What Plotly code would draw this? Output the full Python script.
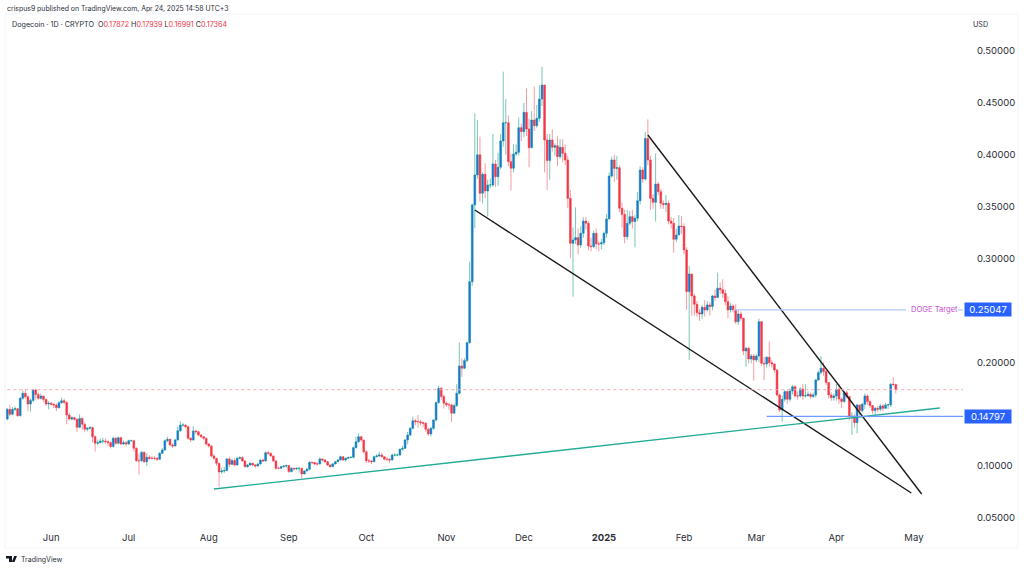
import pandas as pd
import plotly.graph_objects as go

start_date = "2024-05-15"

opens = [
.1454,.1547,.1499,.1547,.1553,.1486,.1653,.1701,.1668,.1598,
.1633,.1733,.1690,.1653,.1675,.1643,.1598,.1605,.1595,.1589,
.1563,.1611,.1630,.1614,.1492,.1454,.1467,.1451,.1374,.1460,
.1403,.1355,.1364,.1371,.1284,.1220,.1226,.1242,.1242,.1236,
.1226,.1188,.1268,.1220,.1274,.1213,.1226,.1213,.1245,.1245,
.1171,.1052,.1052,.1133,.1043,.1085,.1075,.1075,.1075,.1066,
.1123,.1155,.1245,.1258,.1204,.1194,.1252,.1342,.1396,.1396,
.1380,.1268,.1252,.1339,.1332,.1300,.1284,.1268,.1213,.1194,
.1098,.1075,.1027,.0944,.0954,.0957,.1069,.1017,.1053,.1011,
.1075,.1082,.1050,.0995,.1011,.1027,.1011,.1001,.1021,.1059,
.1050,.1130,.1123,.1098,.1050,.0979,.0979,.0995,.1001,.1005,
.0947,.0979,.0973,.0979,.0979,.0924,.0953,.0969,.1037,.1034,
.1021,.1021,.1069,.1059,.1043,.1011,.0995,.1021,.1043,.1059,
.1091,.1059,.1075,.1082,.1085,.1178,.1236,.1284,.1252,.1139,
.1050,.1050,.1043,.1091,.1098,.1107,.1091,.1066,.1066,.1059,
.1107,.1107,.1107,.1162,.1171,.1252,.1300,.1364,.1438,.1428,
.1428,.1419,.1412,.1355,.1310,.1364,.1445,.1612,.1750,.1670,
.1606,.1590,.1590,.1510,.1583,.1702,.1965,.1943,.2017,.2190,
.2777,.3517,.3806,.4000,.3629,.3812,.3651,.3709,.3709,.3912,
.3789,.3879,.4133,.4309,.4309,.3934,.3870,.4008,.4024,.4261,
.4223,.4409,.4249,.4069,.4335,.4280,.4351,.4537,.4672,.4143,
.3944,.4143,.4072,.4088,.3982,.4072,.4014,.3950,.3580,.3147,
.3179,.3202,.3131,.3243,.3362,.3340,.3121,.3115,.3243,.3141,
.3141,.3153,.3243,.3381,.3795,.3950,.3869,.3876,.3484,.3426,
.3211,.3340,.3404,.3356,.3388,.3558,.3853,.3767,.4158,.3950,
.3580,.3542,.3718,.3645,.3532,.3520,.3532,.3362,.3340,.3186,
.3227,.3314,.3308,.3083,.2682,.2852,.2640,.2560,.2479,.2466,
.2531,.2505,.2553,.2537,.2640,.2624,.2714,.2700,.2665,.2585,
.2505,.2543,.2505,.2392,.2466,.2424,.2110,.2135,.2033,.2061,
.2023,.2061,.2392,.1991,.1984,.2049,.1997,.1984,.1927,.1686,
.1541,.1644,.1718,.1644,.1724,.1766,.1676,.1676,.1744,.1676,
.1679,.1692,.1670,.1686,.1830,.1901,.1943,.1911,.1805,.1686,
.1660,.1676,.1740,.1646,.1622,.1708,.1670,.1477,.1480,.1419,
.1590,.1535,.1596,.1676,.1622,.1583,.1535,.1557,.1548,.1580,
.1557,.1590,.1590,.1789,.17872,
]

highs = [
.1560,.1590,.1570,.1575,.1560,.1665,.1730,.1740,.1680,.1650,
.1745,.1745,.1710,.1700,.1680,.1650,.1625,.1620,.1610,.1605,
.1625,.1660,.1650,.1625,.1510,.1480,.1475,.1460,.1500,.1470,
.1420,.1375,.1385,.1375,.1295,.1255,.1265,.1270,.1265,.1250,
.1240,.1285,.1280,.1285,.1285,.1245,.1240,.1255,.1255,.1255,
.1180,.1120,.1145,.1140,.1125,.1105,.1100,.1095,.1085,.1135,
.1175,.1255,.1285,.1265,.1220,.1265,.1380,.1434,.1415,.1400,
.1390,.1280,.1385,.1350,.1340,.1310,.1290,.1275,.1225,.1200,
.1115,.1080,.1030,.0985,.0990,.1080,.1090,.1075,.1075,.1090,
.1095,.1095,.1055,.1020,.1035,.1035,.1020,.1030,.1065,.1070,
.1140,.1149,.1130,.1100,.1055,.0995,.1000,.1010,.1015,.1010,
.0990,.0985,.0985,.0990,.0985,.0960,.0985,.1045,.1045,.1040,
.1040,.1085,.1075,.1065,.1050,.1015,.1030,.1050,.1070,.1100,
.1095,.1085,.1095,.1095,.1190,.1284,.1316,.1290,.1255,.1150,
.1075,.1060,.1100,.1115,.1140,.1130,.1095,.1085,.1075,.1120,
.1125,.1120,.1170,.1195,.1260,.1330,.1375,.1475,.1455,.1492,
.1445,.1430,.1425,.1370,.1380,.1450,.1620,.1775,.1765,.1690,
.1620,.1610,.1600,.1600,.1790,.2190,.2039,.2040,.2200,.2970,
.3530,.4399,.4335,.4175,.3830,.3920,.3760,.3770,.4200,.3950,
.4020,.4200,.4801,.4537,.4380,.4010,.4100,.4100,.4360,.4300,
.4500,.4640,.4350,.4420,.4656,.4480,.4670,.4849,.4672,.4200,
.4200,.4245,.4110,.4180,.4150,.4150,.4100,.3990,.3660,.3300,
.3494,.3290,.3310,.3400,.3400,.3360,.3200,.3270,.3290,.3170,
.3190,.3260,.3430,.3830,.3982,.4000,.3990,.3900,.3540,.3470,
.3470,.3460,.3470,.3420,.3640,.3890,.3880,.4220,.4341,.3990,
.3620,.4014,.3740,.3670,.3560,.3612,.3560,.3400,.3390,.3290,
.3420,.3410,.3340,.3110,.2930,.2852,.2660,.2590,.2510,.2550,
.2600,.2590,.2580,.2650,.2700,.2865,.2770,.2800,.2700,.2640,
.2570,.2560,.2560,.2500,.2490,.2430,.2150,.2150,.2080,.2080,
.2080,.2420,.2390,.2050,.2060,.2200,.2020,.1990,.1930,.1700,
.1680,.1730,.1730,.1750,.1780,.1780,.1720,.1760,.1790,.1790,
.1720,.1710,.1710,.1840,.1920,.2061,.2000,.1930,.1810,.1710,
.1700,.1790,.1790,.1660,.1720,.1730,.1680,.1520,.1500,.1600,
.1590,.1610,.1700,.1690,.1640,.1590,.1570,.1580,.1600,.1600,
.1610,.1600,.1800,.1856,.17939,
]

lows = [
.1440,.1480,.1490,.1530,.1475,.1480,.1640,.1650,.1530,.1524,
.1620,.1640,.1640,.1640,.1620,.1580,.1547,.1585,.1560,.1530,
.1555,.1600,.1600,.1402,.1440,.1440,.1440,.1330,.1365,.1350,
.1330,.1335,.1355,.1230,.1139,.1200,.1220,.1215,.1215,.1195,
.1170,.1180,.1205,.1210,.1205,.1205,.1195,.1205,.1235,.1140,
.1040,.0918,.1040,.1030,.1000,.1060,.1065,.1060,.1050,.1060,
.1140,.1150,.1230,.1190,.1175,.1190,.1245,.1330,.1380,.1365,
.1255,.1230,.1245,.1310,.1290,.1270,.1255,.1200,.1180,.1085,
.1060,.1005,.0802,.0925,.0935,.0950,.0990,.1010,.0995,.1005,
.1065,.1040,.0985,.0985,.1000,.1000,.0985,.0995,.1015,.1040,
.1040,.1110,.1090,.1040,.0963,.0970,.0975,.0985,.0985,.0935,
.0940,.0960,.0960,.0940,.0883,.0920,.0950,.0960,.1020,.1010,
.1005,.1015,.1045,.1030,.1005,.0985,.0990,.1015,.1040,.1055,
.1050,.1045,.1070,.1075,.1075,.1170,.1225,.1235,.1120,.1030,
.1030,.1020,.1035,.1085,.1090,.1080,.1055,.1050,.1030,.1055,
.1095,.1095,.1095,.1150,.1165,.1210,.1290,.1355,.1395,.1370,
.1395,.1375,.1332,.1290,.1285,.1350,.1430,.1600,.1640,.1555,
.1570,.1540,.1423,.1505,.1570,.1690,.1860,.1935,.2000,.2180,
.2736,.3292,.3770,.3547,.3533,.3580,.3404,.3677,.3690,.3690,
.3700,.3860,.4080,.4000,.3890,.3655,.3830,.3990,.3990,.4130,
.4170,.4180,.3880,.4060,.4230,.4260,.4320,.4470,.3830,.3661,
.3760,.4030,.3990,.3890,.3960,.3930,.3900,.3490,.3003,.2633,
.3140,.3040,.3100,.3200,.3280,.3080,.3070,.3100,.3090,.3070,
.3090,.3130,.3200,.3380,.3780,.3740,.3760,.3450,.3300,.3147,
.3180,.3320,.3290,.3109,.3360,.3520,.3730,.3750,.3900,.3468,
.3480,.3356,.3610,.3480,.3480,.3450,.3330,.3290,.3057,.3160,
.3230,.3240,.3040,.2505,.2023,.2450,.2450,.2440,.2400,.2420,
.2440,.2490,.2450,.2500,.2590,.2620,.2660,.2620,.2550,.2425,
.2480,.2480,.2370,.2360,.2400,.2070,.1959,.1990,.1990,.1824,
.2000,.2000,.1970,.1830,.1950,.1960,.1950,.1900,.1670,.1520,
.1429,.1620,.1600,.1620,.1690,.1660,.1640,.1660,.1640,.1660,
.1670,.1650,.1660,.1660,.1820,.1880,.1870,.1780,.1650,.1630,
.1630,.1630,.1600,.1560,.1610,.1650,.1440,.1301,.1370,.1317,
.1490,.1520,.1550,.1590,.1560,.1500,.1493,.1520,.1530,.1530,
.1550,.1550,.1570,.1770,.16991,
]

closes = [
.1547,.1499,.1547,.1553,.1486,.1653,.1701,.1668,.1598,.1633,
.1733,.1690,.1653,.1675,.1643,.1598,.1605,.1595,.1589,.1563,
.1611,.1630,.1614,.1492,.1454,.1467,.1451,.1374,.1460,.1403,
.1355,.1364,.1371,.1284,.1220,.1226,.1242,.1242,.1236,.1226,
.1188,.1268,.1220,.1274,.1213,.1226,.1213,.1245,.1245,.1171,
.1052,.1052,.1133,.1043,.1085,.1075,.1075,.1075,.1066,.1123,
.1155,.1245,.1258,.1204,.1194,.1252,.1342,.1396,.1396,.1380,
.1268,.1252,.1339,.1332,.1300,.1284,.1268,.1213,.1194,.1098,
.1075,.1027,.0944,.0954,.0957,.1069,.1017,.1053,.1011,.1075,
.1082,.1050,.0995,.1011,.1027,.1011,.1001,.1021,.1059,.1050,
.1130,.1123,.1098,.1050,.0979,.0979,.0995,.1001,.1005,.0947,
.0979,.0973,.0979,.0979,.0924,.0953,.0969,.1037,.1034,.1021,
.1021,.1069,.1059,.1043,.1011,.0995,.1021,.1043,.1059,.1091,
.1059,.1075,.1082,.1085,.1178,.1236,.1284,.1252,.1139,.1050,
.1050,.1043,.1091,.1098,.1107,.1091,.1066,.1066,.1059,.1107,
.1107,.1107,.1162,.1171,.1252,.1300,.1364,.1438,.1428,.1428,
.1419,.1412,.1355,.1310,.1364,.1445,.1612,.1750,.1670,.1606,
.1590,.1590,.1510,.1583,.1702,.1965,.1943,.2017,.2190,.2777,
.3517,.3806,.4000,.3629,.3812,.3651,.3709,.3709,.3912,.3789,
.3879,.4133,.4309,.4309,.3934,.3870,.4008,.4024,.4261,.4223,
.4409,.4249,.4069,.4335,.4280,.4351,.4537,.4672,.4143,.3944,
.4143,.4072,.4088,.3982,.4072,.4014,.3950,.3580,.3147,.3179,
.3202,.3131,.3243,.3362,.3340,.3121,.3115,.3243,.3141,.3141,
.3153,.3243,.3381,.3795,.3950,.3869,.3876,.3484,.3426,.3211,
.3340,.3404,.3356,.3388,.3558,.3853,.3767,.4158,.3950,.3580,
.3542,.3718,.3645,.3532,.3520,.3532,.3362,.3340,.3186,.3227,
.3314,.3308,.3083,.2682,.2852,.2640,.2560,.2479,.2466,.2531,
.2505,.2553,.2537,.2640,.2624,.2714,.2700,.2665,.2585,.2505,
.2543,.2505,.2392,.2466,.2424,.2110,.2135,.2033,.2061,.2023,
.2061,.2392,.1991,.1984,.2049,.1997,.1984,.1927,.1686,.1541,
.1644,.1718,.1644,.1724,.1766,.1676,.1676,.1744,.1676,.1679,
.1692,.1670,.1686,.1830,.1901,.1943,.1911,.1805,.1686,.1660,
.1676,.1740,.1646,.1622,.1708,.1670,.1477,.1480,.1419,.1590,
.1535,.1596,.1676,.1622,.1583,.1535,.1557,.1548,.1580,.1557,
.1590,.1590,.1789,.17872,.17364,
]

tick_prices = [0.05, 0.10, 0.20, 0.30, 0.35, 0.40, 0.45, 0.50]
month_ticks = ["2024-06-01","2024-07-01","2024-08-01","2024-09-01","2024-10-01","2024-11-01",
               "2024-12-01","2025-01-01","2025-02-01","2025-03-01","2025-04-01","2025-05-01"]
month_labels = ["Jun","Jul","Aug","Sep","Oct","Nov","Dec","<b>2025</b>","Feb","Mar","Apr","May"]

last_close = 0.17364
target_price = 0.25047
support_price = 0.14797

wedge_lower_x = ["2024-11-12", "2025-04-30"]
wedge_lower_y = [0.3468, 0.0741]
wedge_upper_x = ["2025-01-18", "2025-05-04"]
wedge_upper_y = [0.4191, 0.0731]
trend_x = ["2024-08-03", "2025-05-11"]
trend_y = [0.0779, 0.1560]
target_x = ["2025-02-20", "2025-04-28"]
target_stub_x = ["2025-05-18", "2025-05-20"]
support_x = ["2025-03-05", "2025-05-20"]

W, H = 1024, 569
FONT = "Inter, Liberation Sans, sans-serif"
UP_BODY, DOWN_BODY = "#1976d2", "#f23645"
UP_WICK, DOWN_WICK = "rgba(8,153,129,0.55)", "rgba(242,54,69,0.5)"

dates = pd.date_range(start_date, periods=len(closes), freq="D")
body_hi = [max(a, b) for a, b in zip(opens, closes)]
body_lo = [min(a, b) for a, b in zip(opens, closes)]

fig = go.Figure()
fig.add_trace(go.Candlestick(
    x=dates, open=opens, high=highs, low=lows, close=closes, whiskerwidth=0,
    increasing=dict(line=dict(color=UP_WICK, width=1), fillcolor="rgba(0,0,0,0)"),
    decreasing=dict(line=dict(color=DOWN_WICK, width=1), fillcolor="rgba(0,0,0,0)"),
    hoverinfo="skip", showlegend=False))
fig.add_trace(go.Candlestick(
    x=dates, open=opens, high=body_hi, low=body_lo, close=closes, whiskerwidth=0,
    increasing=dict(line=dict(color=UP_BODY, width=0), fillcolor=UP_BODY),
    decreasing=dict(line=dict(color=DOWN_BODY, width=0), fillcolor=DOWN_BODY),
    hoverinfo="skip", showlegend=False))

def add_line(xs, ys, color, width, dash=None):
    fig.add_trace(go.Scatter(x=xs, y=ys, mode="lines", line=dict(color=color, width=width, dash=dash),
                             hoverinfo="skip", showlegend=False))

add_line(wedge_lower_x, wedge_lower_y, "#1a1a1a", 1.4)
add_line(wedge_upper_x, wedge_upper_y, "#1a1a1a", 1.4)
add_line(trend_x, trend_y, "#22ab94", 1.4)
add_line(target_x, [target_price, target_price], "#b2c8ff", 1.2)
add_line(target_stub_x, [target_price, target_price], "#b2c8ff", 1.2)
add_line(support_x, [support_price, support_price], "#6f9bff", 1.2)
add_line(["2024-05-15", "2025-05-20"], [last_close, last_close], "#f8a9b0", 1, "dot")

def text(x, y, s, size=9, color="#131722", xanchor="left", yref="paper", xref="paper", **kw):
    fig.add_annotation(x=x, y=y, text=s, xref=xref, yref=yref, showarrow=False, xanchor=xanchor,
                       yanchor="middle", font=dict(family=FONT, size=size, color=color), **kw)

def px(x): return x / W
def py(y): return 1 - y / H

red = "#f23645"
text(px(5), py(9), "crispus9 published on TradingView.com, Apr 24, 2025 14:58 UTC+3", size=6.9, color="#2a2e39")
text(px(10), py(24),
     f"Dogecoin · 1D · CRYPTO&nbsp;&nbsp;O<span style='color:{red}'>0.17872</span>&nbsp;"
     f"H<span style='color:{red}'>0.17939</span>&nbsp;L<span style='color:{red}'>0.16991</span>&nbsp;"
     f"C<span style='color:{red}'>0.17364</span>", size=7.2, color="#2a2e39")
text(px(971), py(24), "USD", size=7.2, color="#2a2e39")
text(px(19), py(559), "TradingView", size=7, color="#2a2e39")
text("2025-04-29", target_price, "DOGE Target", size=7.6, color="#c34fd0", xref="x", yref="y")
for price in (target_price, support_price):
    text(px(988), price, f"{price:.5f}", size=9.5, color="#ffffff", xanchor="center", yref="y",
         bgcolor="#2962ff", width=46, height=13, borderpad=0)

fig.update_layout(
    width=W, height=H, margin=dict(l=0, r=0, t=0, b=0), paper_bgcolor="white", plot_bgcolor="white",
    font=dict(family=FONT, color="#2a2e39"), showlegend=False, boxgap=0.3, boxgroupgap=0,
    xaxis=dict(domain=[6 / W, 963 / W], type="date", range=["2024-05-14 12:00", "2025-05-20"],
               rangeslider=dict(visible=False), showgrid=False, zeroline=False, showline=False,
               tickmode="array", tickvals=month_ticks, ticktext=month_labels,
               ticks="outside", ticklen=3, tickcolor="rgba(0,0,0,0)", tickfont=dict(size=9.5, color="#2a2e39")),
    yaxis=dict(domain=[1 - 526 / H, 1 - 15 / H], side="right", range=[0.0423, 0.5347],
               showgrid=False, zeroline=False, showline=False,
               tickmode="array", tickvals=tick_prices, tickformat=".5f",
               ticks="outside", ticklen=11, tickcolor="rgba(0,0,0,0)", tickfont=dict(size=9.5, color="#2a2e39")),
    shapes=[
        dict(type="rect", xref="paper", yref="paper", x0=px(5), x1=px(1018), y0=py(548), y1=py(14),
             line=dict(color="#f0f3fa", width=1), layer="below"),
        dict(type="path", xref="paper", yref="paper", layer="above", fillcolor="#131722",
             line=dict(width=0),
             path=" ".join(["M", str(px(6)), str(py(556)), "L", str(px(12)), str(py(556)), "L", str(px(12)), str(py(562)),
                            "L", str(px(9)), str(py(562)), "L", str(px(9)), str(py(558.5)), "L", str(px(6)), str(py(558.5)), "Z",
                            "M", str(px(17)), str(py(556)), "L", str(px(14.5)), str(py(562)), "L", str(px(11.8)), str(py(562)),
                            "L", str(px(14.2)), str(py(556)), "Z"])),
    ],
)

fig.write_html("out.html", config=dict(displayModeBar=False),
               post_script="document.body.style.margin='0';document.body.style.overflow='hidden';")
